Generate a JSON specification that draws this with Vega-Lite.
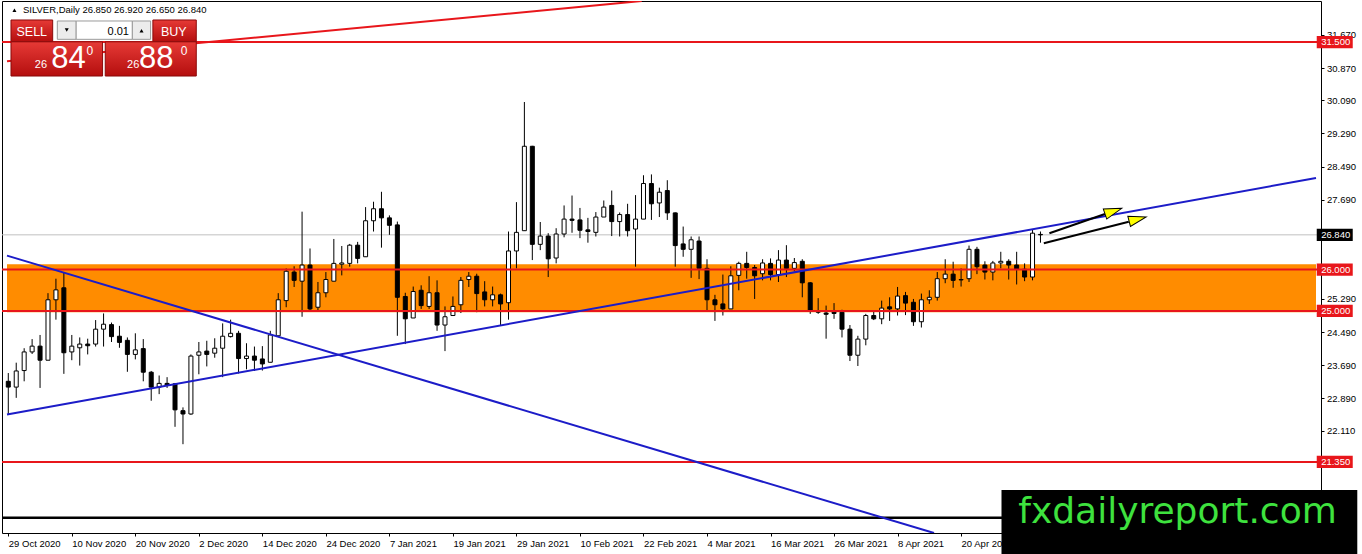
{
"$schema": "https://vega.github.io/schema/vega-lite/v6.json",
"width": 1319,
"height": 532,
"autosize": {"type": "none"},
"padding": {"left": 2, "top": 1, "right": 41, "bottom": 21},
"background": "white",
"config": {"view": {"stroke": "black", "strokeWidth": 1}, "font": "Liberation Sans"},
"datasets": {
"candles": [
{"i":0,"o":23.30,"h":23.50,"l":22.50,"c":23.16},
{"i":1,"o":23.16,"h":23.75,"l":22.90,"c":23.55},
{"i":2,"o":23.56,"h":24.10,"l":23.30,"c":24.01},
{"i":3,"o":24.01,"h":24.32,"l":23.96,"c":24.15},
{"i":4,"o":24.15,"h":24.42,"l":23.14,"c":23.81},
{"i":5,"o":23.81,"h":25.43,"l":23.81,"c":25.27},
{"i":6,"o":25.27,"h":25.78,"l":24.79,"c":25.51},
{"i":7,"o":25.56,"h":25.94,"l":23.48,"c":23.99},
{"i":8,"o":24.01,"h":24.42,"l":23.81,"c":24.15},
{"i":9,"o":24.11,"h":24.36,"l":23.68,"c":24.20},
{"i":10,"o":24.20,"h":24.33,"l":23.95,"c":24.16},
{"i":11,"o":24.20,"h":24.78,"l":24.14,"c":24.56},
{"i":12,"o":24.56,"h":24.94,"l":24.14,"c":24.68},
{"i":13,"o":24.67,"h":24.72,"l":24.25,"c":24.38},
{"i":14,"o":24.39,"h":24.64,"l":24.11,"c":24.24},
{"i":15,"o":24.29,"h":24.36,"l":23.53,"c":23.95},
{"i":16,"o":23.95,"h":24.46,"l":23.83,"c":24.06},
{"i":17,"o":24.09,"h":24.32,"l":23.30,"c":23.52},
{"i":18,"o":23.52,"h":23.55,"l":22.83,"c":23.16},
{"i":19,"o":23.16,"h":23.44,"l":22.99,"c":23.25},
{"i":20,"o":23.25,"h":23.40,"l":23.14,"c":23.20},
{"i":21,"o":23.24,"h":23.26,"l":22.20,"c":22.61},
{"i":22,"o":22.59,"h":22.67,"l":21.78,"c":22.51},
{"i":23,"o":22.51,"h":23.95,"l":22.49,"c":23.91},
{"i":24,"o":23.93,"h":24.25,"l":23.47,"c":24.01},
{"i":25,"o":24.03,"h":24.28,"l":23.66,"c":23.95},
{"i":26,"o":23.98,"h":24.34,"l":23.87,"c":24.10},
{"i":27,"o":24.10,"h":24.70,"l":23.40,"c":24.39},
{"i":28,"o":24.38,"h":24.79,"l":24.36,"c":24.46},
{"i":29,"o":24.46,"h":24.52,"l":23.49,"c":23.85},
{"i":30,"o":23.85,"h":24.22,"l":23.59,"c":23.91},
{"i":31,"o":23.91,"h":24.14,"l":23.55,"c":23.81},
{"i":32,"o":23.84,"h":24.15,"l":23.56,"c":23.72},
{"i":33,"o":23.76,"h":24.52,"l":23.76,"c":24.42},
{"i":34,"o":24.40,"h":25.43,"l":24.40,"c":25.27},
{"i":35,"o":25.25,"h":26.03,"l":25.09,"c":25.96},
{"i":36,"o":25.94,"h":26.08,"l":25.58,"c":25.74},
{"i":37,"o":25.72,"h":27.40,"l":24.86,"c":26.11},
{"i":38,"o":26.11,"h":26.51,"l":24.99,"c":25.05},
{"i":39,"o":25.09,"h":25.70,"l":25.01,"c":25.44},
{"i":40,"o":25.44,"h":25.94,"l":25.33,"c":25.76},
{"i":41,"o":25.72,"h":26.74,"l":25.72,"c":26.15},
{"i":42,"o":26.13,"h":26.57,"l":25.86,"c":26.16},
{"i":43,"o":26.15,"h":26.62,"l":26.07,"c":26.59},
{"i":44,"o":26.59,"h":26.67,"l":26.15,"c":26.27},
{"i":45,"o":26.31,"h":27.51,"l":26.31,"c":27.18},
{"i":46,"o":27.18,"h":27.64,"l":26.92,"c":27.47},
{"i":47,"o":27.47,"h":27.88,"l":26.53,"c":27.25},
{"i":48,"o":27.25,"h":27.31,"l":26.84,"c":27.07},
{"i":49,"o":27.08,"h":27.16,"l":24.40,"c":25.33},
{"i":50,"o":25.35,"h":25.44,"l":24.20,"c":24.81},
{"i":51,"o":24.83,"h":25.59,"l":24.83,"c":25.47},
{"i":52,"o":25.50,"h":25.62,"l":25.05,"c":25.13},
{"i":53,"o":25.11,"h":25.84,"l":25.05,"c":25.44},
{"i":54,"o":25.44,"h":25.74,"l":24.52,"c":24.66},
{"i":55,"o":24.66,"h":25.11,"l":24.03,"c":24.86},
{"i":56,"o":24.89,"h":25.35,"l":24.89,"c":25.11},
{"i":57,"o":25.15,"h":25.82,"l":24.95,"c":25.74},
{"i":58,"o":25.76,"h":25.94,"l":25.58,"c":25.84},
{"i":59,"o":25.84,"h":25.90,"l":24.97,"c":25.42},
{"i":60,"o":25.46,"h":25.72,"l":25.11,"c":25.27},
{"i":61,"o":25.27,"h":25.59,"l":25.11,"c":25.39},
{"i":62,"o":25.39,"h":25.42,"l":24.66,"c":25.17},
{"i":63,"o":25.20,"h":26.92,"l":24.79,"c":26.45},
{"i":64,"o":26.45,"h":27.63,"l":26.03,"c":26.90},
{"i":65,"o":26.94,"h":30.05,"l":26.94,"c":28.98},
{"i":66,"o":28.98,"h":28.99,"l":26.23,"c":26.61},
{"i":67,"o":26.61,"h":27.15,"l":26.47,"c":26.81},
{"i":68,"o":26.81,"h":26.88,"l":25.82,"c":26.26},
{"i":69,"o":26.28,"h":27.00,"l":26.15,"c":26.86},
{"i":70,"o":26.86,"h":27.55,"l":26.78,"c":27.22},
{"i":71,"o":27.22,"h":27.79,"l":26.89,"c":27.19},
{"i":72,"o":27.20,"h":27.49,"l":26.76,"c":26.95},
{"i":73,"o":26.96,"h":27.25,"l":26.65,"c":26.92},
{"i":74,"o":26.90,"h":27.39,"l":26.80,"c":27.27},
{"i":75,"o":27.27,"h":27.67,"l":27.27,"c":27.51},
{"i":76,"o":27.55,"h":27.91,"l":26.81,"c":27.16},
{"i":77,"o":27.16,"h":27.38,"l":26.80,"c":27.33},
{"i":78,"o":27.33,"h":27.59,"l":26.80,"c":26.94},
{"i":79,"o":26.98,"h":27.80,"l":26.07,"c":27.22},
{"i":80,"o":27.22,"h":28.28,"l":27.22,"c":28.08},
{"i":81,"o":28.08,"h":28.30,"l":27.20,"c":27.59},
{"i":82,"o":27.61,"h":27.98,"l":27.27,"c":27.87},
{"i":83,"o":27.91,"h":28.16,"l":27.20,"c":27.37},
{"i":84,"o":27.37,"h":27.38,"l":26.07,"c":26.58},
{"i":85,"o":26.62,"h":27.04,"l":26.31,"c":26.49},
{"i":86,"o":26.49,"h":26.80,"l":25.80,"c":26.72},
{"i":87,"o":26.69,"h":26.80,"l":25.77,"c":26.03},
{"i":88,"o":26.03,"h":26.25,"l":25.01,"c":25.27},
{"i":89,"o":25.27,"h":25.39,"l":24.76,"c":25.15},
{"i":90,"o":25.17,"h":25.88,"l":24.89,"c":25.05},
{"i":91,"o":25.05,"h":26.08,"l":25.05,"c":25.85},
{"i":92,"o":25.86,"h":26.19,"l":25.50,"c":26.15},
{"i":93,"o":26.15,"h":26.43,"l":25.78,"c":26.05},
{"i":94,"o":26.05,"h":26.11,"l":25.29,"c":25.85},
{"i":95,"o":25.90,"h":26.25,"l":25.74,"c":26.16},
{"i":96,"o":26.15,"h":26.27,"l":25.74,"c":25.88},
{"i":97,"o":25.88,"h":26.47,"l":25.70,"c":26.23},
{"i":98,"o":26.23,"h":26.59,"l":25.82,"c":26.03},
{"i":99,"o":26.03,"h":26.28,"l":25.96,"c":26.17},
{"i":100,"o":26.20,"h":26.25,"l":25.33,"c":25.68},
{"i":101,"o":25.68,"h":25.70,"l":24.93,"c":25.01},
{"i":102,"o":25.00,"h":25.31,"l":24.93,"c":24.97},
{"i":103,"o":24.95,"h":25.13,"l":24.33,"c":24.92},
{"i":104,"o":24.97,"h":25.19,"l":24.81,"c":24.94},
{"i":105,"o":24.97,"h":25.03,"l":24.36,"c":24.56},
{"i":106,"o":24.56,"h":24.66,"l":23.79,"c":23.93},
{"i":107,"o":23.93,"h":24.40,"l":23.67,"c":24.32},
{"i":108,"o":24.32,"h":24.93,"l":24.17,"c":24.89},
{"i":109,"o":24.89,"h":24.98,"l":24.78,"c":24.81},
{"i":110,"o":24.81,"h":25.25,"l":24.68,"c":25.07},
{"i":111,"o":25.10,"h":25.33,"l":24.76,"c":25.05},
{"i":112,"o":25.05,"h":25.58,"l":24.89,"c":25.36},
{"i":113,"o":25.37,"h":25.46,"l":24.90,"c":25.19},
{"i":114,"o":25.21,"h":25.29,"l":24.64,"c":24.74},
{"i":115,"o":24.74,"h":25.42,"l":24.60,"c":25.27},
{"i":116,"o":25.27,"h":25.50,"l":25.17,"c":25.33},
{"i":117,"o":25.33,"h":25.94,"l":25.25,"c":25.78},
{"i":118,"o":25.78,"h":26.25,"l":25.67,"c":25.89},
{"i":119,"o":25.89,"h":26.19,"l":25.56,"c":25.74},
{"i":120,"o":25.76,"h":26.03,"l":25.59,"c":25.75},
{"i":121,"o":25.78,"h":26.58,"l":25.70,"c":26.49},
{"i":122,"o":26.49,"h":26.55,"l":25.89,"c":26.07},
{"i":123,"o":26.11,"h":26.20,"l":25.76,"c":25.94},
{"i":124,"o":25.94,"h":26.21,"l":25.74,"c":26.16},
{"i":125,"o":26.16,"h":26.43,"l":26.03,"c":26.20},
{"i":126,"o":26.20,"h":26.25,"l":25.76,"c":26.11},
{"i":127,"o":26.11,"h":26.43,"l":25.64,"c":26.01},
{"i":128,"o":26.01,"h":26.15,"l":25.72,"c":25.82},
{"i":129,"o":25.82,"h":26.98,"l":25.74,"c":26.88},
{"i":130,"o":26.85,"h":26.92,"l":26.65,"c":26.84}
],
"zone": [{"top": 26.13, "bottom": 24.97}],
"bid": [{"p": 26.84}],
"levels": [{"p": 31.5}, {"p": 26.0}, {"p": 25.0}, {"p": 21.35}],
"blackline": [{"p": 20.0}],
"trend": [
{"name": "blue_down", "x1": -0.1625, "y1": 26.338, "x2": 116.59, "y2": 19.634},
{"name": "blue_up", "x1": -0.1625, "y1": 22.496, "x2": 164.7, "y2": 28.213},
{"name": "red_up", "x1": -0.1625, "y1": 31.037, "x2": 79.77, "y2": 32.491}
],
"arrows": [
{"x1": 131.12, "y1": 26.877, "x2": 138.12, "y2": 27.343, "hx": 139.18, "hy": 27.411, "dir": 341.1},
{"x1": 130.42, "y1": 26.635, "x2": 141.12, "y2": 27.157, "hx": 142.24, "hy": 27.218, "dir": 345.6}
],
"pricemarks": [
{"p": 31.5, "t": "31.500", "k": "line"},
{"p": 26.84, "t": "26.840", "k": "bid"},
{"p": 26.0, "t": "26.000", "k": "line"},
{"p": 25.0, "t": "25.000", "k": "line"},
{"p": 21.35, "t": "21.350", "k": "line"}
],
"panelred": [
{"x1": 0.34, "x2": 5.59, "y1": 32.032, "y2": 31.51},
{"x1": 0.34, "x2": 11.875, "y1": 31.505, "y2": 30.678},
{"x1": 18.21, "x2": 23.675, "y1": 32.032, "y2": 31.51},
{"x1": 12.21, "x2": 23.675, "y1": 31.505, "y2": 30.678}
],
"controls": [
{"x1": 6.175, "x2": 8.55, "y1": 32.008, "y2": 31.565, "k": "btn"},
{"x1": 8.55, "x2": 15.625, "y1": 32.008, "y2": 31.565, "k": "input"},
{"x1": 15.625, "x2": 17.925, "y1": 32.008, "y2": 31.565, "k": "btn"}
],
"tri": [
{"x": 7.36, "y": 31.79, "s": "down"},
{"x": 16.78, "y": 31.77, "s": "up"},
{"x": 0.775, "y": 32.27, "s": "up"}
],
"btntext": [{"t": "SELL", "x": 2.96, "y": 31.749}, {"t": "BUY", "x": 20.84, "y": 31.749}],
"lot": [{"t": "0.01", "x": 15.2, "y": 31.749}],
"pricesmall": [{"t": "26", "x": 3.34, "y": 30.864}, {"t": "26", "x": 14.96, "y": 30.864}],
"pricebig": [{"t": "84", "x": 5.42, "y": 30.864}, {"t": "88", "x": 16.46, "y": 30.864}],
"pricesup": [{"t": "0", "x": 9.84, "y": 31.186}, {"t": "0", "x": 21.71, "y": 31.186}],
"title": [{"t": "SILVER,Daily  26.850 26.920 26.650 26.840", "x": 1.84, "y": 32.273}],
"logo": [{"t": "fxdailyreport.com", "x1": 125.09, "x2": 169.9, "y1": 20.674, "y2": 19.1, "tx": 127.2, "ty": 19.876}]
},
"layer": [
{"data": {"name": "zone"}, "mark": {"type": "rect", "color": "#ff8c00", "clip": true},
 "encoding": {
  "x": {"datum": -0.1625, "type": "quantitative", "scale": {"domain": [-0.1625, 164.7], "nice": false, "zero": false},
        "axis": {"orient": "bottom", "title": null, "values": [0, 8, 16, 24, 32, 40, 48, 56, 64, 72, 80, 88, 96, 104, 112, 120],
                 "labelExpr": "['29 Oct 2020','10 Nov 2020','20 Nov 2020','2 Dec 2020','14 Dec 2020','24 Dec 2020','7 Jan 2021','19 Jan 2021','29 Jan 2021','10 Feb 2021','22 Feb 2021','4 Mar 2021','16 Mar 2021','26 Mar 2021','8 Apr 2021','20 Apr 2021'][round(datum.value/8)]",
                 "labelAlign": "left", "labelBaseline": "top", "labelPadding": 2, "labelFontSize": 9.5, "labelFont": "Liberation Sans", "labelColor": "black",
                 "tickSize": 3, "tickColor": "black", "domain": false, "grid": false, "labelFlush": false, "labelOverlap": false}},
  "x2": {"datum": 164.7},
  "y": {"field": "top", "type": "quantitative", "scale": {"domain": [19.634, 32.491], "nice": false, "zero": false},
        "axis": {"orient": "right", "title": null, "values": [31.67, 30.87, 30.09, 29.29, 28.49, 27.69, 25.29, 24.49, 23.69, 22.89, 22.11],
                 "format": ".3f", "labelFontSize": 9.5, "labelFont": "Liberation Sans", "labelColor": "black", "labelPadding": 2.5,
                 "tickSize": 3, "tickColor": "black", "domain": false, "grid": false, "labelOverlap": false, "labelFlush": false}},
  "y2": {"field": "bottom"}}},
{"data": {"name": "bid"}, "mark": {"type": "rule", "color": "#c0c0c0", "strokeWidth": 1},
 "encoding": {"y": {"field": "p", "type": "quantitative"}}},
{"data": {"name": "candles"}, "mark": {"type": "rule", "color": "black", "strokeWidth": 1, "clip": true},
 "encoding": {
  "x": {"field": "i", "type": "quantitative"},
  "y": {"field": "l", "type": "quantitative"},
  "y2": {"field": "h"}}},
{"data": {"name": "candles"}, "mark": {"type": "bar", "size": 4, "stroke": "black", "strokeWidth": 1, "clip": true},
 "encoding": {
  "x": {"field": "i", "type": "quantitative"},
  "y": {"field": "o", "type": "quantitative"},
  "y2": {"field": "c"},
  "fill": {"condition": {"test": "datum.c >= datum.o", "value": "white"}, "value": "black"}}},
{"data": {"name": "levels"}, "mark": {"type": "rule", "color": "#e8161b", "strokeWidth": 2},
 "encoding": {"y": {"field": "p", "type": "quantitative"}}},
{"data": {"name": "blackline"}, "mark": {"type": "rule", "color": "black", "strokeWidth": 2.5},
 "encoding": {"y": {"field": "p", "type": "quantitative"}}},
{"data": {"name": "trend"}, "mark": {"type": "rule", "strokeWidth": 2, "clip": true},
 "encoding": {
  "x": {"field": "x1", "type": "quantitative"},
  "x2": {"field": "x2"},
  "y": {"field": "y1", "type": "quantitative"},
  "y2": {"field": "y2"},
  "color": {"condition": {"test": "datum.name == 'red_up'", "value": "#e8161b"}, "value": "#1c1cc8"}}},
{"data": {"name": "arrows"}, "mark": {"type": "rule", "color": "black", "strokeWidth": 2},
 "encoding": {
  "x": {"field": "x1", "type": "quantitative"},
  "x2": {"field": "x2"},
  "y": {"field": "y1", "type": "quantitative"},
  "y2": {"field": "y2"}}},
{"data": {"name": "arrows"}, "mark": {"type": "point", "shape": "M1,0L-1,-0.6L-1,0.6Z", "size": 310, "filled": true, "fill": "#ffff00", "stroke": "black", "strokeWidth": 1, "opacity": 1},
 "encoding": {
  "x": {"field": "hx", "type": "quantitative"},
  "y": {"field": "hy", "type": "quantitative"},
  "angle": {"field": "dir", "type": "quantitative", "scale": null}}},
{"data": {"name": "pricemarks"}, "mark": {"type": "point", "shape": "M-1,-0.34L1,-0.34L1,0.34L-1,0.34Z", "size": 1296, "filled": true, "opacity": 1},
 "encoding": {
  "x": {"datum": 167.06, "type": "quantitative"},
  "y": {"field": "p", "type": "quantitative"},
  "color": {"condition": {"test": "datum.k == 'bid'", "value": "#000000"}, "value": "#e8161b"}}},
{"data": {"name": "pricemarks"}, "mark": {"type": "text", "color": "white", "fontSize": 9.5, "font": "Liberation Sans", "align": "left", "baseline": "middle"},
 "encoding": {
  "x": {"datum": 165.35, "type": "quantitative"},
  "y": {"field": "p", "type": "quantitative"},
  "text": {"field": "t"}}},
{"data": {"name": "panelred"}, "mark": {"type": "rect", "fill": {"gradient": "linear", "x1": 0, "y1": 0, "x2": 0, "y2": 1, "stops": [{"offset": 0, "color": "#e63a36"}, {"offset": 1, "color": "#b40e0e"}]}, "stroke": "#8a0a0a", "strokeWidth": 1},
 "encoding": {
  "x": {"field": "x1", "type": "quantitative"},
  "x2": {"field": "x2"},
  "y": {"field": "y1", "type": "quantitative"},
  "y2": {"field": "y2"}}},
{"data": {"name": "controls"}, "mark": {"type": "rect", "stroke": "#9a9a9a", "strokeWidth": 1},
 "encoding": {
  "x": {"field": "x1", "type": "quantitative"},
  "x2": {"field": "x2"},
  "y": {"field": "y1", "type": "quantitative"},
  "y2": {"field": "y2"},
  "fill": {"condition": {"test": "datum.k == 'input'", "value": "#ffffff"}, "value": "#ececec"}}},
{"data": {"name": "tri"}, "mark": {"type": "point", "filled": true, "color": "black", "size": 16, "opacity": 1},
 "encoding": {
  "x": {"field": "x", "type": "quantitative"},
  "y": {"field": "y", "type": "quantitative"},
  "shape": {"condition": {"test": "datum.s == 'down'", "value": "triangle-down"}, "value": "triangle-up"}}},
{"data": {"name": "btntext"}, "mark": {"type": "text", "color": "white", "fontSize": 12.5, "font": "Liberation Sans", "align": "center", "baseline": "middle"},
 "encoding": {
  "x": {"field": "x", "type": "quantitative"},
  "y": {"field": "y", "type": "quantitative"},
  "text": {"field": "t"}}},
{"data": {"name": "lot"}, "mark": {"type": "text", "color": "black", "fontSize": 11, "font": "Liberation Sans", "align": "right", "baseline": "middle"},
 "encoding": {
  "x": {"field": "x", "type": "quantitative"},
  "y": {"field": "y", "type": "quantitative"},
  "text": {"field": "t"}}},
{"data": {"name": "pricesmall"}, "mark": {"type": "text", "color": "white", "fontSize": 11, "font": "Liberation Sans", "align": "left", "baseline": "alphabetic"},
 "encoding": {
  "x": {"field": "x", "type": "quantitative"},
  "y": {"field": "y", "type": "quantitative"},
  "text": {"field": "t"}}},
{"data": {"name": "pricebig"}, "mark": {"type": "text", "color": "white", "fontSize": 31, "font": "Liberation Sans", "align": "left", "baseline": "alphabetic"},
 "encoding": {
  "x": {"field": "x", "type": "quantitative"},
  "y": {"field": "y", "type": "quantitative"},
  "text": {"field": "t"}}},
{"data": {"name": "pricesup"}, "mark": {"type": "text", "color": "white", "fontSize": 12, "font": "Liberation Sans", "align": "left", "baseline": "alphabetic"},
 "encoding": {
  "x": {"field": "x", "type": "quantitative"},
  "y": {"field": "y", "type": "quantitative"},
  "text": {"field": "t"}}},
{"data": {"name": "title"}, "mark": {"type": "text", "color": "black", "fontSize": 9.5, "font": "Liberation Sans", "align": "left", "baseline": "middle"},
 "encoding": {
  "x": {"field": "x", "type": "quantitative"},
  "y": {"field": "y", "type": "quantitative"},
  "text": {"field": "t"}}},
{"data": {"name": "logo"}, "mark": {"type": "rect", "color": "black"},
 "encoding": {
  "x": {"field": "x1", "type": "quantitative"},
  "x2": {"field": "x2"},
  "y": {"field": "y1", "type": "quantitative"},
  "y2": {"field": "y2"}}},
{"data": {"name": "logo"}, "mark": {"type": "text", "color": "#3ee23e", "fontSize": 36, "font": "DejaVu Sans", "align": "left", "baseline": "alphabetic"},
 "encoding": {
  "x": {"field": "tx", "type": "quantitative"},
  "y": {"field": "ty", "type": "quantitative"},
  "text": {"field": "t"}}}
]
}
